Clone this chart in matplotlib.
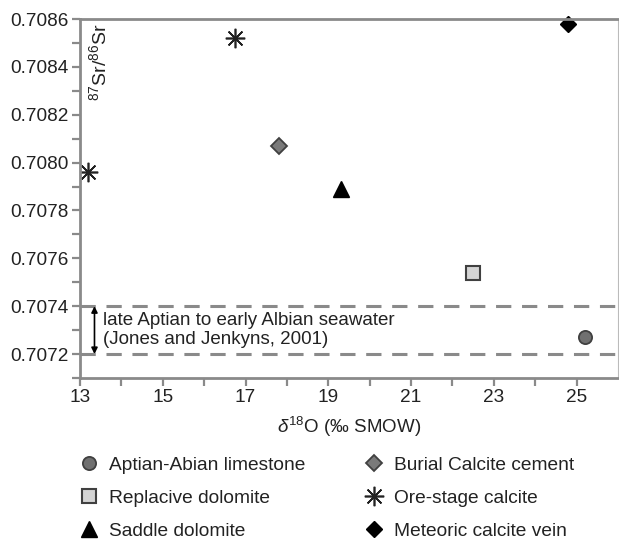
import matplotlib
matplotlib.use('Agg')
import matplotlib.pyplot as plt

# d18O (permil SMOW) and 87Sr/86Sr
limestone_x = [25.2]
limestone_y = [0.70727]
replacive_x = [22.5]
replacive_y = [0.70754]
saddle_x = [19.3]
saddle_y = [0.70789]
burial_x = [17.8]
burial_y = [0.70807]
ore_x = [16.75, 13.2]
ore_y = [0.70852, 0.70796]
meteoric_x = [24.8]
meteoric_y = [0.70858]
seawater = [0.7072, 0.7074]
xticks = [13, 15, 17, 19, 21, 23, 25]
yticks = [0.7072, 0.7074, 0.7076, 0.7078, 0.7080, 0.7082, 0.7084, 0.7086]

plt.rcParams['font.family'] = ['Liberation Sans', 'DejaVu Sans']
plt.rcParams['mathtext.fontset'] = 'custom'
plt.rcParams['mathtext.rm'] = 'Liberation Sans'
plt.rcParams['mathtext.it'] = 'Liberation Sans:italic'

grau = '#8a8a8a'
txt = '#222222'

fig = plt.figure(figsize=(6.19, 5.4), dpi=100)
ax = fig.add_axes([80 / 619, 1 - 378 / 540, 538 / 619, 359 / 540])

for y in seawater:
    ax.axhline(y, color=grau, lw=2.2, dashes=(5, 3.5), zorder=1)

h1 = ax.plot(limestone_x, limestone_y, 'o', ms=9.5, mfc='#707070', mec='#404040', mew=1.3, ls='none', label='Aptian-Abian limestone')[0]
h2 = ax.plot(replacive_x, replacive_y, 's', ms=10, mfc='#d4d4d4', mec='#404040', mew=1.5, ls='none', label='Replacive dolomite')[0]
h3 = ax.plot(saddle_x, saddle_y, '^', ms=11, mfc='black', mec='black', ls='none', label='Saddle dolomite')[0]
h4 = ax.plot(burial_x, burial_y, 'D', ms=8, mfc='#7a7a7a', mec='#404040', mew=1.3, ls='none', label='Burial Calcite cement')[0]
h5 = ax.plot(ore_x, ore_y, marker=(8, 2, 0), ms=14, mec='#222222', mew=1.2, ls='none', label='Ore-stage calcite')[0]
h6 = ax.plot(meteoric_x, meteoric_y, 'D', ms=8.5, mfc='black', mec='black', ls='none', label='Meteoric calcite vein', clip_on=False)[0]

ax.annotate('', xy=(13.35, seawater[1]), xytext=(13.35, seawater[0]),
            arrowprops=dict(arrowstyle='<|-|>', color='black', lw=1.2, mutation_scale=9,
                            shrinkA=0, shrinkB=0))
ax.text(13.55, sum(seawater) / 2, 'late Aptian to early Albian seawater\n(Jones and Jenkyns, 2001)',
        fontsize=13.5, color=txt, va='center', ha='left', linespacing=1.2)

ax.set_xlim(13, 26)
ax.set_ylim(0.7071, 0.7086)
ax.set_xticks(xticks)
ax.set_xticks(range(14, 26, 2), minor=True)
ax.set_yticks(yticks)
ax.set_yticks([0.7071 + 0.0002 * i for i in range(8)], minor=True)
ax.set_yticklabels([f'{v:.4f}' for v in yticks])
ax.tick_params(which='both', direction='out', color=grau, width=1.6, length=6,
               labelsize=13.7, labelcolor=txt, pad=2)

for s in ['left', 'bottom', 'top']:
    ax.spines[s].set_color(grau)
    ax.spines[s].set_linewidth(2)
ax.spines['right'].set_color('#bbbbbb')
ax.spines['right'].set_linewidth(0.8)

ax.text(0.035, 0.88, '$^{87}$Sr/$^{86}$Sr', transform=ax.transAxes, rotation=90,
        ha='center', va='center', fontsize=14, color=txt)
ax.set_xlabel('$\\mathit{\\delta}^{18}$O (‰ SMOW)', fontsize=13.5, color=txt, labelpad=6)

fig.legend(handles=[h1, h2, h3, h4, h5, h6], ncol=2, loc='upper left',
           bbox_to_anchor=(72 / 619, 1 - 449 / 540), frameon=False, fontsize=13.8,
           handlelength=1.0, handletextpad=0.55, columnspacing=3.05, labelspacing=0.8,
           labelcolor=txt, borderaxespad=0)

fig.savefig('out.png', dpi=100)
